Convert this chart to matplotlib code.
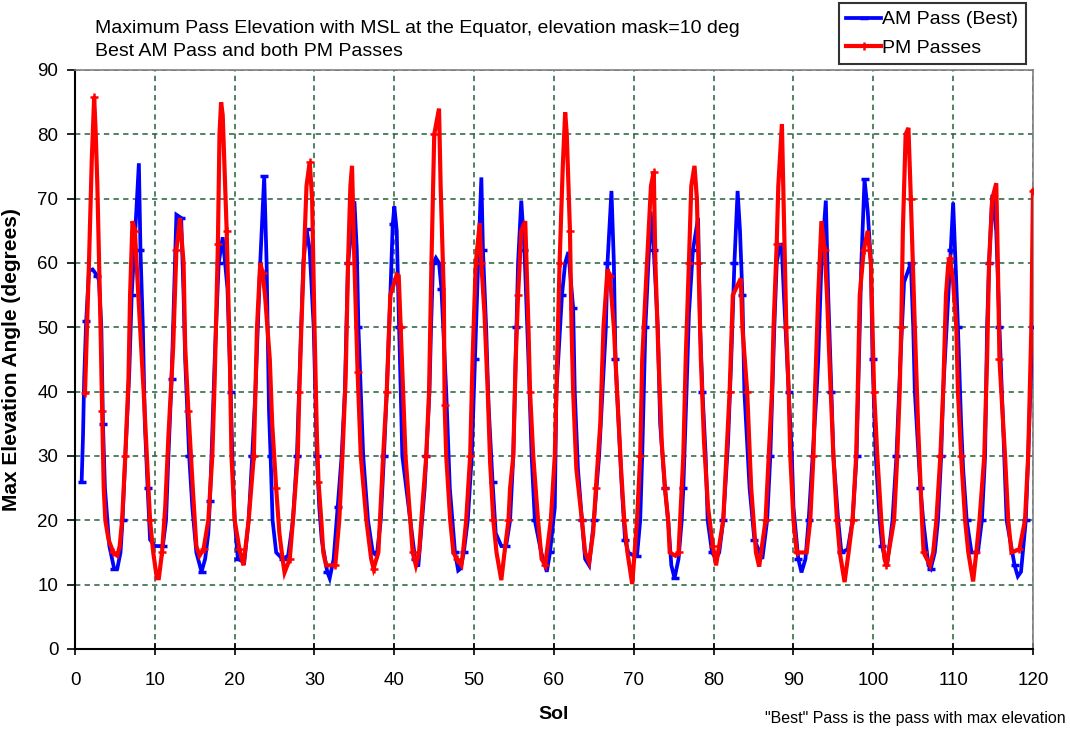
import matplotlib
matplotlib.use("Agg")
import matplotlib.pyplot as plt
from matplotlib.lines import Line2D

plt.rcParams['font.family'] = ['Liberation Sans', 'DejaVu Sans']

# AM pass (best) maximum elevation by sol
am_sol = [0.83, 1.0, 1.15, 1.4, 1.75, 2.2, 2.8, 3.0, 3.3, 3.5, 3.75, 4.3, 4.9, 5.3,
          5.7, 5.95, 6.3, 6.8, 7.1, 7.55, 8.0, 8.2, 8.5, 8.75, 9.1, 9.4, 10.0, 11.0,
          11.4, 11.7, 12.1, 12.4, 12.7, 13.3, 13.6, 13.8, 14.3, 14.7, 15.2, 15.85,
          16.3, 16.7, 16.9, 17.1, 17.5, 18.0, 18.5, 19.1, 19.5, 19.75, 20.0, 20.4, 21.2,
          21.75, 22.2, 22.6, 23.2, 23.7, 24.0, 24.3, 24.5, 24.75, 25.2, 26.0, 26.7,
          27.3, 27.8, 28.2, 28.6, 29.0, 29.4, 29.9, 30.3, 30.6, 30.9, 31.6, 31.9, 32.4,
          32.9, 33.4, 33.8, 34.2, 35.0, 35.3, 35.5, 36.1, 36.7, 37.3, 37.8,
          38.3, 38.7, 39.05, 39.5, 39.8, 40.0, 40.3, 40.6, 41.0, 42.0, 42.6, 43.0,
          43.8, 44.0, 44.4, 44.6, 44.85, 45.2, 45.6, 45.9, 46.5, 46.95, 47.6, 48.0, 48.3,
          48.7, 49.2, 49.7, 50.1, 50.5, 50.9, 51.1, 51.5, 51.8, 52.3, 52.7, 53.4, 54.0,
          54.5, 54.9, 55.3, 55.5, 55.9, 56.3, 56.8, 57.2, 57.6, 58.4, 59.1,
          59.5, 60.1, 60.3, 61.0, 61.4, 61.8, 62.4, 62.6, 63.0, 63.5, 63.9, 64.4,
          65.0, 65.65, 66.5, 66.7, 67.2, 67.5, 67.7, 68.1, 68.5, 68.9, 69.3, 70.0, 70.4,
          70.8, 71.05, 71.45, 71.9, 72.1, 72.5, 73.0, 73.3, 73.9, 74.3, 74.7, 75.1,
          75.6, 76.0, 76.2, 76.6, 76.9, 77.4, 78.05, 78.3, 78.6, 79.0, 79.25, 79.8, 80.3,
          80.7, 81.2, 81.8, 82.2, 82.6, 83.0, 83.3, 83.6, 83.85, 84.5, 85.1, 86.1,
          86.7, 87.1, 87.6, 87.9, 88.3, 88.55, 88.8, 89.4, 89.8, 90.0, 90.6, 91.0,
          91.5, 91.9, 92.9, 93.1, 93.5, 94.05, 94.35, 94.75, 95.0, 95.6, 96.0, 96.8,
          97.4, 97.9, 98.2, 98.5, 98.9, 99.3, 99.7, 99.9, 100.3, 100.8, 101.1, 101.7,
          102.4, 102.9, 103.4, 103.85, 104.7, 105.0, 105.2, 105.9, 106.25, 106.9, 107.2,
          107.7, 108.1, 108.5, 108.75, 109.4, 109.7, 110.0, 110.3, 110.6, 111.0, 111.25,
          111.7, 112.3, 113.1,
          113.6, 114.0, 114.25, 114.5, 114.9, 115.4, 115.8, 116.25, 116.7, 117.7, 118.1, 118.5,
          119.1, 119.4, 119.8, 120.0]
am_elev = [26, 33, 42, 51, 58.8, 59, 58, 57.3, 50, 35, 25, 16, 12.5, 12.5,
           15, 20, 30, 43, 55, 65, 75.5, 62, 50, 35, 25, 17, 16, 16,
           20, 30, 42, 55, 67.5, 67, 55, 45, 30, 22, 15, 12,
           14, 18, 23, 30, 45, 60, 64, 56, 40, 28, 20, 14, 13.5,
           20, 30, 40, 60, 73.5, 60, 37, 30, 20, 15, 14, 14.5,
           20, 30, 45, 60, 65.3, 62, 50, 30, 22, 17, 12, 11, 14,
           22, 30, 40, 60, 69.6, 62, 50, 30, 20, 15, 14.5,
           20, 30, 40, 55, 66, 68.8, 65, 50, 30, 20, 14, 12.8,
           25, 30, 40, 50, 60, 60.8, 60, 56, 40, 25, 15, 12.2, 12.5,
           15, 20, 30, 45, 60, 73.3, 62, 50, 38, 26, 18, 16, 16,
           20, 30, 50, 60, 69.7, 62, 45, 30, 20, 15, 12,
           15, 22, 40, 55, 60, 61.7, 53, 40, 28, 20, 14, 13,
           20, 30, 50, 60, 71.2, 60, 45, 35, 25, 17, 15, 14.5, 14.5,
           20, 30, 50, 62, 68, 62, 50, 35, 25, 20, 13, 11,
           14, 20, 25, 40, 52, 62, 67, 50, 40, 30, 20, 15, 14,
           15, 20, 32, 45, 60, 71.2, 65, 55, 40, 25, 17, 14,
           20, 30, 50, 60, 62.9, 62, 55, 40, 30, 22, 14, 11.9,
           14, 20, 40, 45, 60, 69.7, 55, 40, 30, 20, 15, 15.5,
           20, 30, 45, 60, 73, 68, 60, 45, 30, 20, 16, 12.8,
           20, 30, 45, 57, 60, 50, 40, 25, 20, 13, 12.5,
           15, 20, 30, 40, 55, 62, 69.4, 60, 50, 35, 28,
           20, 15, 15,
           20, 30, 50, 60, 70.6, 65, 50, 35, 20, 13, 11.3, 12,
           20, 30, 45, 50]

# PM passes maximum elevation by sol
pm_sol = [1.25, 1.5, 1.75, 2.1, 2.4, 2.6, 2.8, 3.2, 3.4, 3.6, 3.8, 4.2, 4.8, 5.3,
          5.6, 5.9, 6.3, 6.7, 6.9, 7.2, 7.5, 7.8, 8.6, 9.0, 9.4, 9.8, 10.25, 10.5,
          10.9, 11.3, 11.7, 12.3, 12.7, 13.15, 13.6, 13.8, 14.2, 14.8, 15.2, 15.6,
          16.1, 16.7, 17.2, 17.5, 17.9, 18.1, 18.3, 18.5, 19.0, 19.4, 19.6, 20.0, 20.6, 21.1,
          21.75, 22.2, 22.4, 22.6, 22.8, 23.2, 23.5, 23.8, 24.4, 24.7, 25.2, 25.6, 26.0, 26.25, 26.9,
          27.3, 27.6, 27.9, 28.1, 28.35, 28.7, 29.0, 29.4, 29.7, 30.0, 30.3, 30.5, 30.85, 31.1,
          31.45, 32.6,
          33.1, 33.5, 33.9, 34.2, 34.5, 34.7, 35.0, 35.4, 35.8, 36.5, 37.1, 37.4,
          38.0, 38.2, 38.6, 39.05, 39.5, 40.3, 40.55, 40.8, 41.1, 41.4, 42.0, 42.3, 42.7, 43.1,
          43.5, 44.0, 44.35, 44.5, 44.65, 45.0, 45.6, 45.8, 46.2, 46.3, 46.5, 47.0, 47.4, 47.8, 48.4,
          48.6, 49.0, 49.5, 49.8, 50.2, 50.7, 50.9, 51.3, 51.7, 52.0, 52.4, 52.8, 53.4,
          53.8, 54.3, 54.5, 54.9, 55.2, 55.5, 55.9, 56.4, 56.8, 57.0, 57.4, 58.0, 58.45, 58.9,
          59.6, 60.1, 60.3, 60.7, 61.1, 61.4, 61.6, 62.0, 62.2, 62.4, 62.8, 63.5, 63.9, 64.4,
          64.9, 65.25, 65.8, 66.2, 66.7, 67.0, 67.5, 67.9, 68.4, 68.8, 69.2, 69.8,
          70.4, 70.8, 71.05, 71.65, 72.15, 72.5, 72.7, 73.1, 73.5, 73.9, 74.3, 74.5, 75.2, 75.6,
          75.8, 76.2, 76.5, 76.9, 77.2, 77.6, 77.9, 78.1, 78.4, 78.8, 79.3, 79.9, 80.3,
          81.2, 81.6, 82.0, 82.4, 83.4, 83.6, 84.2, 84.7, 85.3, 85.7,
          86.5, 86.9, 87.3, 87.5, 87.9, 88.1, 88.55, 88.75, 89.1, 89.4, 89.6, 90.0, 90.4, 90.8,
          91.65, 92.1, 92.5, 92.7, 93.1, 93.5, 93.9, 94.2, 94.5, 95.0, 95.45, 95.8, 96.4,
          96.9, 97.4, 97.85, 98.05, 98.3, 98.8, 99.3, 99.7, 99.9, 100.1, 100.5, 101.0, 101.4, 101.65,
          102.6, 103.0, 103.3, 103.5, 103.7, 104.05, 104.4, 104.7, 105.2, 105.6, 106.1, 106.3, 107.1,
          107.5, 107.9, 108.4, 108.75, 109.1, 109.4, 109.6, 110.0, 110.4, 110.6, 111.0, 111.5,
          111.9, 112.5,
          112.9, 113.3, 113.9, 114.25, 114.5, 114.9, 115.4, 115.6, 115.8, 116.5, 116.9, 117.3, 118.3,
          119.0, 119.4, 119.8, 120.0]
pm_elev = [39.8, 50, 60, 76, 85.8, 80, 72, 50, 37, 25, 20, 17, 15, 14.5,
           16, 20, 30, 42, 55, 66.5, 65, 58, 40, 30, 20, 15, 11, 11,
           15, 22, 33, 47, 62, 67, 60, 47, 37, 24, 16, 14.5,
           15.5, 20, 30, 42, 63, 80, 85, 83, 65, 45, 30, 20, 15.5, 13,
           20, 27, 30, 40, 50, 60, 58.5, 55, 45, 35, 25, 18, 14, 11.9, 14,
           20, 25, 30, 40, 50, 62, 72, 75.7, 70, 50, 33, 26, 20, 15,
           13, 13,
           20, 30, 42, 60, 72, 75.1, 60, 43, 30, 20, 14, 12.5,
           15, 20, 30, 40, 55, 58.2, 58, 50, 40, 30, 20, 15, 13, 15,
           22, 30, 40, 50, 60, 80, 84, 72, 55, 38, 30, 20, 15, 14, 13,
           15, 20, 30, 45, 60, 66.2, 60, 52, 40, 29, 20, 15, 10.7,
           15, 20, 25, 30, 45, 55, 65, 66.5, 50, 40, 30, 20, 14, 13,
           20, 30, 40, 60, 75, 83.4, 80, 65, 50, 40, 28, 20, 15, 13.5,
           18, 25, 35, 50, 59, 58, 50, 40, 28, 20, 15, 10.1,
           20, 30, 45, 60, 72, 74.2, 60, 45, 32, 25, 20, 15, 14.5, 15,
           20, 30, 45, 60, 72, 75.1, 70, 60, 45, 32, 22, 16, 13,
           20, 30, 40, 55, 57.6, 50, 40, 25, 15, 12.8,
           20, 30, 40, 50, 63, 72, 81.6, 70, 50, 40, 30, 20, 15, 15,
           15, 20, 30, 40, 55, 66.5, 62, 55, 45, 30, 20, 15, 10.4,
           15, 20, 30, 40, 55, 62, 65, 60, 50, 40, 30, 20, 14, 13,
           20, 30, 40, 50, 65, 80, 81, 70, 50, 35, 20, 15, 13,
           15, 20, 30, 40, 55, 60, 60.8, 57, 50, 40, 30, 20,
           15, 10.5,
           15, 20, 30, 45, 60, 70, 72.4, 60, 45, 30, 20, 15, 15.5,
           20, 30, 50, 71.2]

x_ticks = list(range(0, 121, 10))
y_ticks = list(range(0, 91, 10))

title_lines = ["Maximum Pass Elevation with MSL at the Equator, elevation mask=10 deg",
               "Best AM Pass and both PM Passes"]

fig = plt.figure(figsize=(10.70, 7.32), dpi=100)
ax = fig.add_axes([0.0701, 0.1134, 0.8953, 0.7910])

grid_color = '#24603a'
ax.set_axisbelow(True)
ax.grid(True, color=grid_color, linestyle=(0, (3.5, 2.8)), linewidth=1.1)

ax.plot(am_sol, am_elev, color='#0000ff', linewidth=2.7, marker='_',
        markersize=6, markeredgewidth=2.5, markevery=3, zorder=3,
        solid_joinstyle='miter')
ax.plot(pm_sol, pm_elev, color='#ff0000', linewidth=3.0, marker='+',
        markersize=6, markeredgewidth=1.8, markevery=4, zorder=4,
        solid_joinstyle='miter')

ax.set_xlim(0, 120)
ax.set_ylim(0, 90)
ax.set_xticks(x_ticks)
ax.set_yticks(y_ticks)
ax.tick_params(axis='x', direction='inout', length=9, width=1.2, pad=12,
               labelsize=13.5)
ax.tick_params(axis='y', direction='out', length=6, width=1.2, pad=6,
               labelsize=13.5)

for side in ('left', 'bottom'):
    ax.spines[side].set_color('black')
    ax.spines[side].set_linewidth(1.5)
for side in ('top', 'right'):
    ax.spines[side].set_color('#808080')
    ax.spines[side].set_linewidth(1.2)

ax.set_xlabel('Sol', fontsize=14, fontweight='bold', labelpad=12)
ax.set_ylabel('Max Elevation Angle (degrees)', fontsize=15,
              fontweight='bold', labelpad=12)

fig.text(0.0888, 0.961, title_lines[0], fontsize=14, va='center', ha='left')
fig.text(0.0888, 0.930, title_lines[1], fontsize=14, va='center', ha='left')
fig.text(0.996, 0.019, '"Best" Pass is the pass with max elevation',
         fontsize=11.5, ha='right', va='center')

handles = [Line2D([], [], color='#0000ff', linewidth=2.7, marker='_',
                  markersize=6, markeredgewidth=2.5),
           Line2D([], [], color='#ff0000', linewidth=3.0, marker='+',
                  markersize=6, markeredgewidth=1.8)]
leg = fig.legend(handles, ['AM Pass (Best)', 'PM Passes'],
                 loc='upper right', bbox_to_anchor=(0.959, 0.996),
                 frameon=True, fancybox=False, fontsize=14,
                 handlelength=1.8, handletextpad=0.05, borderpad=0.4,
                 labelspacing=0.55, borderaxespad=0)
leg.get_frame().set_edgecolor('black')
leg.get_frame().set_linewidth(1.5)

fig.savefig('out.png', dpi=100)
